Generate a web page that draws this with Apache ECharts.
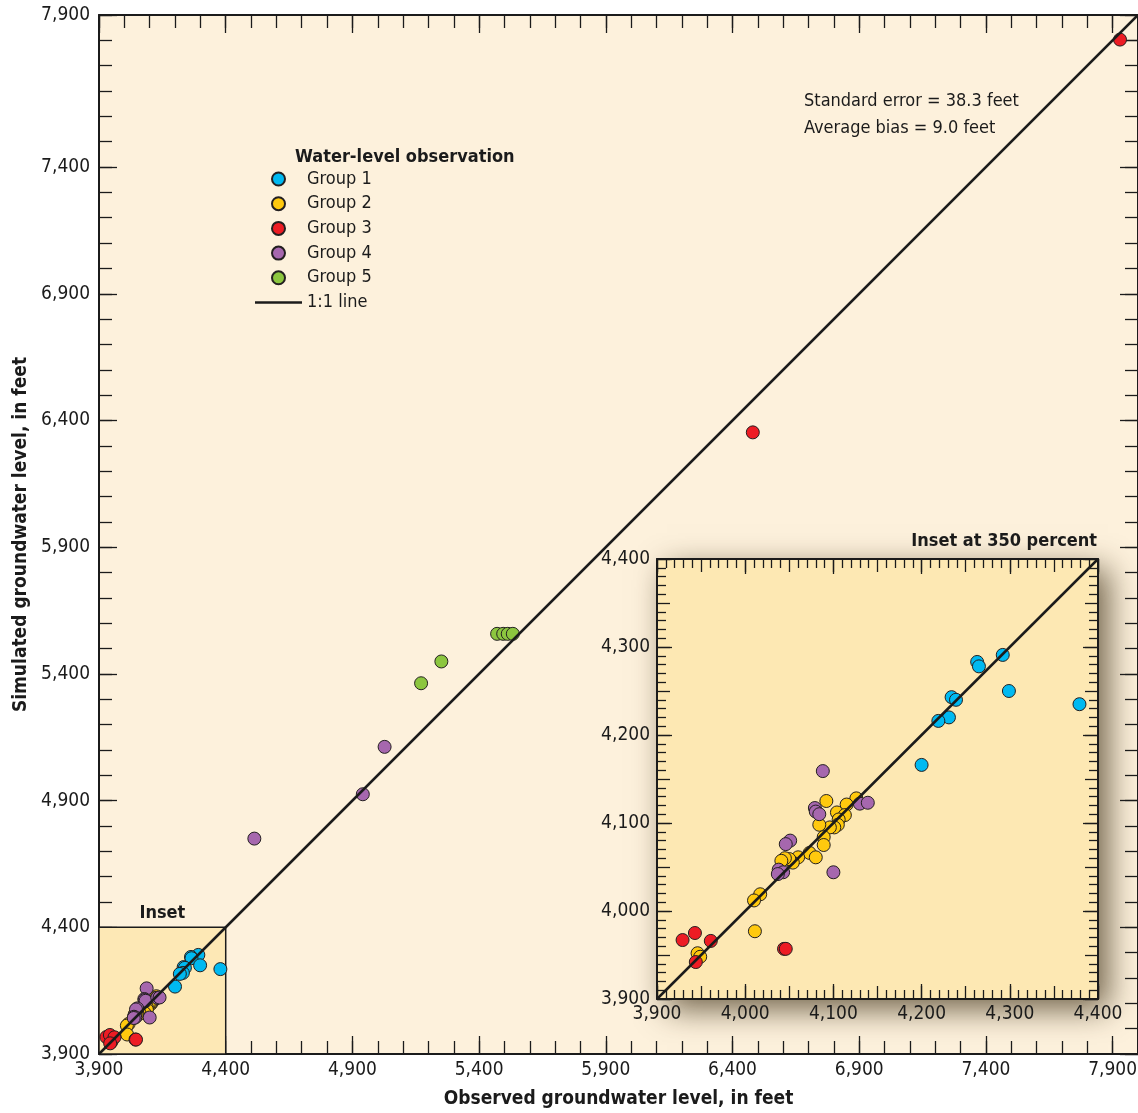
<!DOCTYPE html>
<html>
<head>
<meta charset="utf-8">
<script src="https://cdn.jsdelivr.net/npm/echarts@6/dist/echarts.min.js"></script>
<style>
  html, body { margin: 0; padding: 0; background: #ffffff; }
  #main { width: 1138px; height: 1113px; }
</style>
</head>
<body>
<div id="main"></div>
<script>
// observed (x) and simulated (y) groundwater levels, feet
const group1X = [4292, 4263, 4265, 4299, 4379, 4234, 4239, 4231, 4219, 4200];
const group1Y = [4291, 4283, 4278, 4250, 4235, 4243, 4240, 4220, 4216, 4166];
const group2X = [4126, 4115, 4092, 4104, 4113, 4106, 4105, 4101, 4096, 4084, 4089, 4089,
                 4073, 4080, 4060, 4054, 4050, 4045, 4041, 4017, 4010, 4011, 3946, 3949];
const group2Y = [4128, 4121, 4125, 4112, 4109, 4104, 4098, 4095, 4095, 4098, 4084, 4075,
                 4066, 4061, 4061, 4055, 4059, 4060, 4057, 4019, 4012, 3977, 3952, 3948];
const group3X = [3929, 3943, 3961, 3944, 4044, 4046, 6480, 7929];
const group3Y = [3967, 3975, 3966, 3942, 3957, 3957, 6353, 7903];
const group4X = [4088, 4079, 4080, 4084, 4130, 4139, 4051, 4046, 4100, 4038, 4043, 4037, 5027, 4941, 4513];
const group4Y = [4159, 4117, 4113, 4110, 4122, 4123, 4080, 4076, 4044, 4047, 4044, 4042, 5112, 4925, 4750];
const group5X = [5471, 5495, 5513, 5533, 5251, 5171];
const group5Y = [5558, 5558, 5558, 5558, 5449, 5363];

const groupNames = ['Group 1', 'Group 2', 'Group 3', 'Group 4', 'Group 5'];
const groupColors = ['#00b9f1', '#ffc90e', '#ed1c24', '#a667ae', '#8cc63f'];

// axis ticks and labels
const mainMin = 3900, mainMax = 8000;
const xTickValues = [3900, 4400, 4900, 5400, 5900, 6400, 6900, 7400, 7900];
const xTickLabels = ['3,900', '4,400', '4,900', '5,400', '5,900', '6,400', '6,900', '7,400', '7,900'];
// the source figure prints "7,900" at the top corner of the y axis
const yTickValues = [3900, 4400, 4900, 5400, 5900, 6400, 6900, 7400, 8000];
const yTickLabels = ['3,900', '4,400', '4,900', '5,400', '5,900', '6,400', '6,900', '7,400', '7,900'];
const insetMin = 3900, insetMax = 4400;
const insetTickValues = [3900, 4000, 4100, 4200, 4300, 4400];
const insetTickLabels = ['3,900', '4,000', '4,100', '4,200', '4,300', '4,400'];

const FONT = '"Liberation Sans Narrow", "DejaVu Sans Condensed", "Roboto Condensed", "Liberation Sans", sans-serif';
const INK = '#1b1b1b';

const groupsX = [group1X, group2X, group3X, group4X, group5X];
const groupsY = [group1Y, group2Y, group3Y, group4Y, group5Y];
const pairs = groupsX.map((xs, g) => xs.map((x, i) => [x, groupsY[g][i]]));

function labelFrom(values, labels) {
  return function (v) {
    const i = values.indexOf(v);
    return i < 0 ? '' : labels[i];
  };
}

// one axis = one tick length; several axes stacked on each side
function axis(grid, pos, min, max, o) {
  const a = {
    type: 'value', gridIndex: grid, position: pos, min: min, max: max,
    interval: o.interval,
    axisLine: { show: !!o.line, onZero: false, lineStyle: { color: INK, width: 2 } },
    axisTick: { show: true, inside: true, length: o.len, lineStyle: { color: INK, width: 1.3 } },
    axisLabel: { show: false },
    splitLine: { show: false }
  };
  if (o.minor) {
    a.minorTick = { show: true, splitNumber: 5, length: o.minor, lineStyle: { color: INK, width: 1.3 } };
  }
  if (o.labels) {
    a.axisTick.customValues = o.labels[0];
    a.axisLabel = {
      show: true, customValues: o.labels[0], margin: o.margin || 8,
      formatter: labelFrom(o.labels[0], o.labels[1]),
      color: INK, fontSize: 19, fontFamily: FONT
    };
  }
  return a;
}

const nameStyle = { color: INK, fontSize: 19, fontWeight: 'bold', fontFamily: FONT };

const xAxes = [
  // main chart
  axis(0, 'bottom', mainMin, mainMax, { interval: 100, len: 13, line: true }),
  Object.assign(axis(0, 'bottom', mainMin, mainMax, { interval: 500, len: 18, labels: [xTickValues, xTickLabels], margin: 7 }), {
    name: 'Observed groundwater level, in feet', nameLocation: 'middle', nameGap: 36, nameTextStyle: nameStyle
  }),
  axis(0, 'top', mainMin, mainMax, { interval: 100, len: 13, line: true }),
  axis(0, 'top', mainMin, mainMax, { interval: 500, len: 18 }),
  // inset
  axis(1, 'bottom', insetMin, insetMax, { interval: 50, len: 13, minor: 9, line: true }),
  axis(1, 'bottom', insetMin, insetMax, { interval: 100, len: 15, labels: [insetTickValues, insetTickLabels], margin: 6 }),
  axis(1, 'top', insetMin, insetMax, { interval: 50, len: 13, minor: 9, line: true }),
  axis(1, 'top', insetMin, insetMax, { interval: 100, len: 15 })
];

const yAxes = [
  axis(0, 'left', mainMin, mainMax, { interval: 100, len: 13, line: true }),
  Object.assign(axis(0, 'left', mainMin, mainMax, { interval: 500, len: 18, labels: [yTickValues, yTickLabels], margin: 9 }), {
    name: 'Simulated groundwater level, in feet', nameLocation: 'middle', nameGap: 67, nameTextStyle: nameStyle
  }),
  axis(0, 'right', mainMin, mainMax, { interval: 100, len: 13, line: true }),
  axis(0, 'right', mainMin, mainMax, { interval: 500, len: 18 }),
  axis(1, 'left', insetMin, insetMax, { interval: 50, len: 13, minor: 9, line: true }),
  axis(1, 'left', insetMin, insetMax, { interval: 100, len: 15, labels: [insetTickValues, insetTickLabels], margin: 7 }),
  axis(1, 'right', insetMin, insetMax, { interval: 50, len: 13, minor: 9, line: true }),
  axis(1, 'right', insetMin, insetMax, { interval: 100, len: 15 })
];

const series = [];
// 1:1 lines first so the points sit on top
series.push({
  name: '1:1 line', type: 'line', xAxisIndex: 0, yAxisIndex: 0,
  data: [[mainMin, mainMin], [mainMax, mainMax]],
  symbol: 'none', showSymbol: false, silent: true,
  itemStyle: { color: INK },
  lineStyle: { color: INK, width: 2.5 },
  markArea: {
    silent: true,
    itemStyle: { color: '#fde8b5', borderColor: INK, borderWidth: 1.5 },
    label: { show: true, position: 'top', distance: 4, color: INK, fontSize: 18, fontWeight: 'bold', fontFamily: FONT },
    data: [[{ name: 'Inset', coord: [insetMin, insetMin] }, { coord: [insetMax, insetMax] }]]
  }
});
series.push({
  name: '1:1 line', type: 'line', xAxisIndex: 4, yAxisIndex: 4,
  data: [[insetMin, insetMin], [insetMax, insetMax]],
  symbol: 'none', showSymbol: false, silent: true,
  itemStyle: { color: INK },
  lineStyle: { color: INK, width: 2.5 }
});
[0, 4].forEach(ax => {
  pairs.forEach((pts, g) => {
    series.push({
      name: groupNames[g], type: 'scatter', xAxisIndex: ax, yAxisIndex: ax,
      data: pts, symbolSize: 13, clip: true,
      itemStyle: { color: groupColors[g], borderColor: '#231f20', borderWidth: 1, opacity: 1 }
    });
  });
});

const chart = echarts.init(document.getElementById('main'), null, { renderer: 'canvas' });
chart.setOption({
  animation: false,
  backgroundColor: '#ffffff',
  grid: [
    { left: 99, top: 15, width: 1039, height: 1039, show: true, backgroundColor: '#fdf1dc', borderWidth: 0,
      outerBoundsMode: 'none', containLabel: false },
    { left: 657, top: 559, width: 441, height: 440, show: true, backgroundColor: '#fde8b3', borderWidth: 0,
      outerBoundsMode: 'none', containLabel: false,
      shadowBlur: 30, shadowColor: 'rgba(50,35,10,0.7)', shadowOffsetX: 10, shadowOffsetY: 10 }
  ],
  xAxis: xAxes,
  yAxis: yAxes,
  legend: {
    orient: 'vertical', left: 255, top: 170, padding: 0,
    itemWidth: 47, itemHeight: 13, itemGap: 6.7,
    data: groupNames.map(n => ({ name: n, icon: 'circle' })).concat([{
      name: '1:1 line', icon: 'path://M0,0H47V2.5H0Z',
      itemStyle: { color: INK, borderWidth: 0 }
    }]),
    textStyle: { color: INK, fontSize: 18, lineHeight: 18, fontFamily: FONT },
    selectedMode: false
  },
  graphic: [
    { type: 'text', left: 295, top: 148, style: { text: 'Water-level observation', fill: INK, font: 'bold 18px ' + FONT } },
    { type: 'text', left: 804, top: 88, style: { text: 'Standard error = 38.3 feet\nAverage bias = 9.0 feet', fill: INK, font: '18px ' + FONT, lineHeight: 27 } },
    { type: 'text', right: 41, top: 532, style: { text: 'Inset at 350 percent', fill: INK, font: 'bold 18px ' + FONT } }
  ],
  series: series
});
</script>
</body>
</html>
